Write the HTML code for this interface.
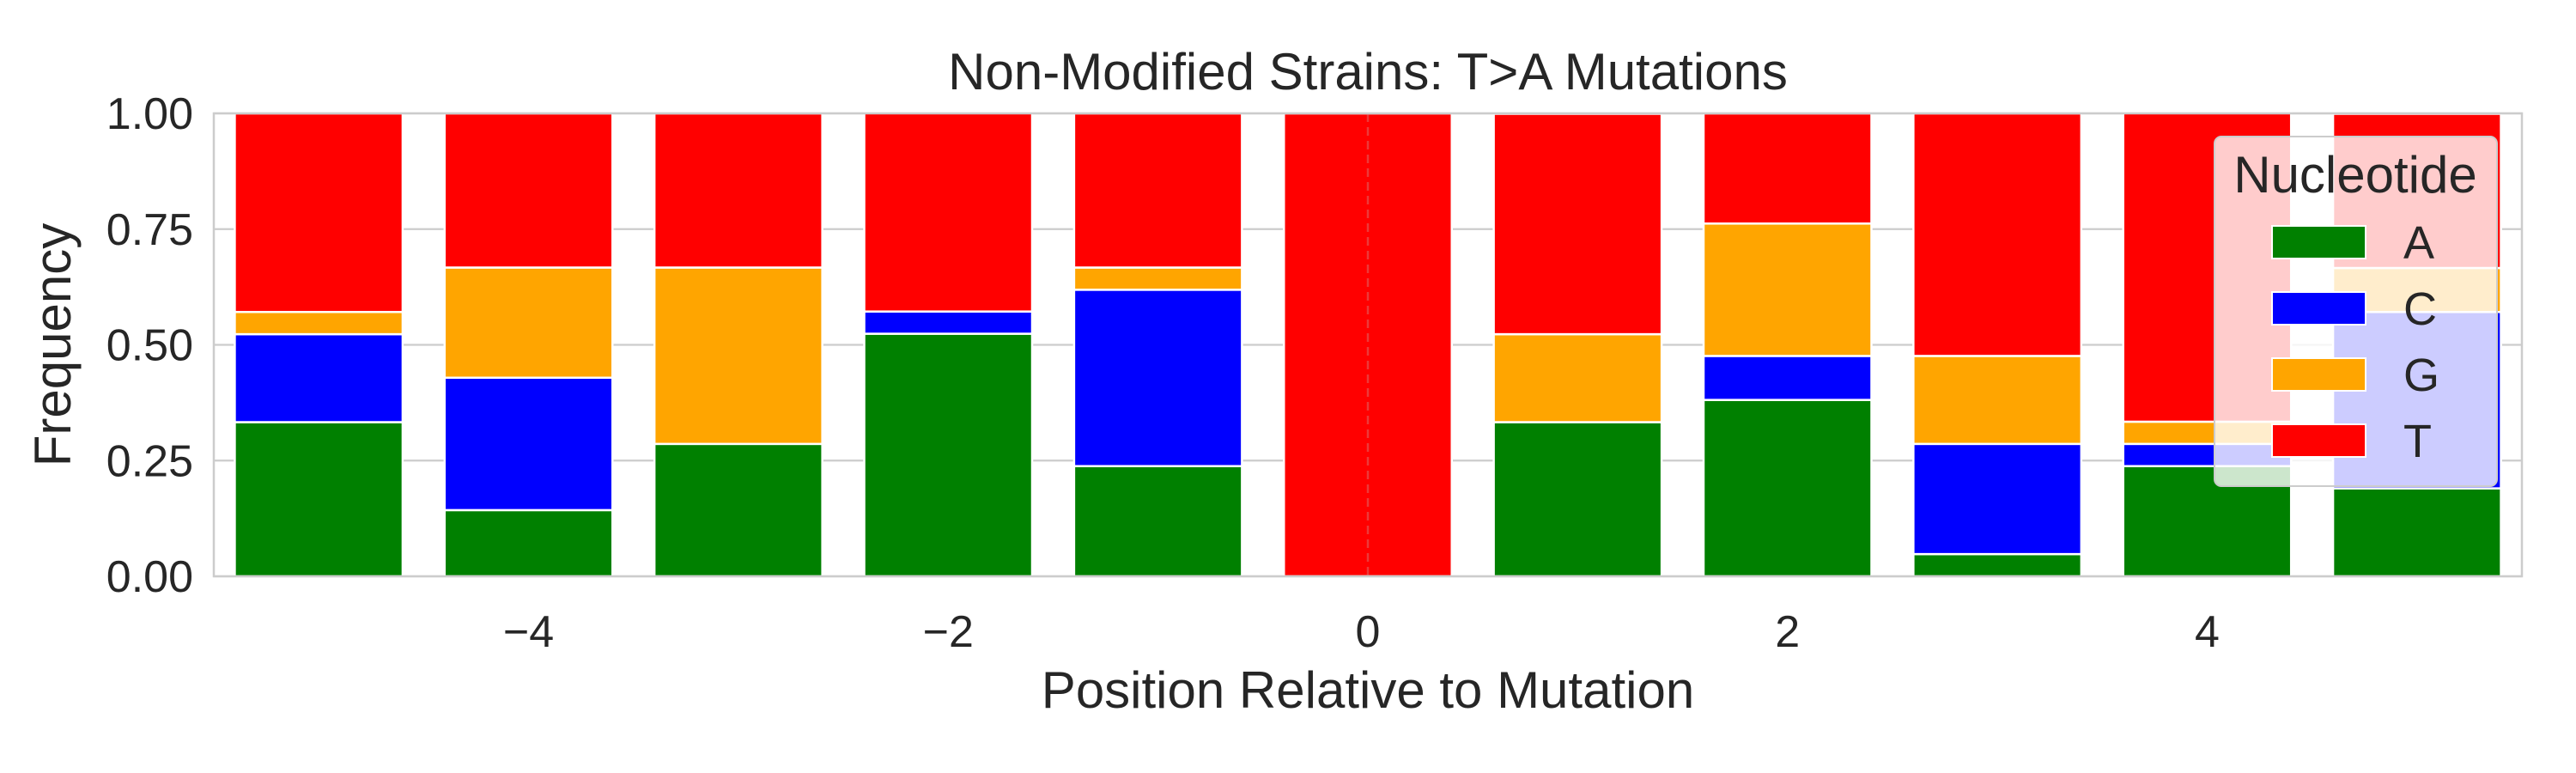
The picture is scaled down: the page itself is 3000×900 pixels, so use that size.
<!DOCTYPE html>
<html><head><meta charset="utf-8">
<style>
html,body{margin:0;padding:0;background:#fff;}
svg{display:block;font-family:"Liberation Sans","DejaVu Sans",sans-serif;}
</style></head>
<body>
<svg id="chart" width="3000" height="900" viewBox="0 0 3000 900">
<rect width="3000" height="900" fill="#fff"/>
<g id="grid"></g>
<g id="bars"></g>
<g id="axes"></g>
<g id="legend"></g>
</svg>
<script>
const positions = [-5,-4,-3,-2,-1,0,1,2,3,4,5];
const freqA = [0.333,0.143,0.286,0.524,0.238,0,0.333,0.381,0.048,0.238,0.190];
const freqC = [0.190,0.286,0,0.048,0.381,0,0,0.095,0.238,0.048,0.381];
const freqG = [0.048,0.238,0.381,0,0.048,0,0.190,0.286,0.190,0.048,0.095];
const freqT = [0.429,0.333,0.333,0.429,0.333,1,0.476,0.238,0.524,0.667,0.333];
const nucleotides = ['A','C','G','T'];
const colors = ['green','blue','orange','red'];
const yTicks = [0,0.25,0.5,0.75,1.0];
const yTickLabels = ['0.00','0.25','0.50','0.75','1.00'];
const xTicks = [-4,-2,0,2,4];
const xTickLabels = ['\u22124','\u22122','0','2','4'];

const L=249,R=2937,T=132,B=671;
const xMin=-5.5,xMax=5.5;
const xs=v=>L+(v-xMin)/(xMax-xMin)*(R-L);
const ys=v=>B-v*(B-T);
const NS='http://www.w3.org/2000/svg';
function mk(tag,attrs,parent){const e=document.createElementNS(NS,tag);for(const k in attrs)e.setAttribute(k,attrs[k]);parent.appendChild(e);return e;}
const grid=document.getElementById('grid'),bars=document.getElementById('bars'),axes=document.getElementById('axes'),legend=document.getElementById('legend');

yTicks.forEach((t,i)=>{
  const l=mk('line',{x1:L,x2:R,y1:ys(t),y2:ys(t),stroke:'#cccccc','stroke-width':2.2},grid);
  
  
  const tx=mk('text',{x:L-24,y:ys(t)+18,'text-anchor':'end','font-size':52,fill:'#262626'},axes);
  tx.textContent=yTickLabels[i];
  
  
});
xTicks.forEach((t,i)=>{
  const l=mk('line',{x1:xs(t),x2:xs(t),y1:T,y2:B,stroke:'#cccccc','stroke-width':2.2},grid);
  
  
  const tx=mk('text',{x:xs(t),y:B+82,'text-anchor':'middle','font-size':52,fill:'#262626'},axes);
  tx.textContent=xTickLabels[i];
  
  
});

const series=[freqA,freqC,freqG,freqT];
positions.forEach((p,i)=>{
  let base=0;
  series.forEach((s,k)=>{
    const v=s[i];
    if(v>0){
      const r=mk('rect',{x:xs(p-0.4),width:xs(p+0.4)-xs(p-0.4),y:ys(base+v),height:ys(base)-ys(base+v),fill:colors[k],stroke:'#fff','stroke-width':2.5},bars);
      
      
    }
    base+=v;
  });
});
const dl=mk('line',{x1:xs(0),x2:xs(0),y1:T,y2:B,stroke:'#e06060','stroke-width':2.5,'stroke-dasharray':'10,6','opacity':0.6},bars);



const frame=mk('rect',{x:L,y:T,width:R-L,height:B-T,fill:'none',stroke:'#cccccc','stroke-width':2.5},axes);


const title=mk('text',{x:(L+R)/2,y:104,'text-anchor':'middle','font-size':60,fill:'#262626'},axes);
title.textContent='Non-Modified Strains: T>A Mutations';


const xl=mk('text',{x:(L+R)/2,y:824,'text-anchor':'middle','font-size':60,fill:'#262626'},axes);
xl.textContent='Position Relative to Mutation';


const yl=mk('text',{x:82,y:(T+B)/2,'text-anchor':'middle','font-size':60,fill:'#262626',transform:'rotate(-90 82 '+((T+B)/2)+')'},axes);
yl.textContent='Frequency';



const lb=mk('rect',{x:2579,y:159,width:329,height:407,rx:8,fill:'#fff','fill-opacity':0.8,stroke:'#cccccc','stroke-width':2},legend);


const lt=mk('text',{x:2743,y:224,'text-anchor':'middle','font-size':60,fill:'#262626'},legend);
lt.textContent='Nucleotide';


nucleotides.forEach((n,k)=>{
  const cy=282+k*77;
  const g=mk('g',{},legend);
  
  
  mk('rect',{x:2646,y:cy-19,width:109,height:38,fill:colors[k],stroke:'#fff','stroke-width':2},g);
  const t=mk('text',{x:2799,y:cy+19,'font-size':54,fill:'#262626'},g);
  t.textContent=n;
});
</script>
</body></html>
